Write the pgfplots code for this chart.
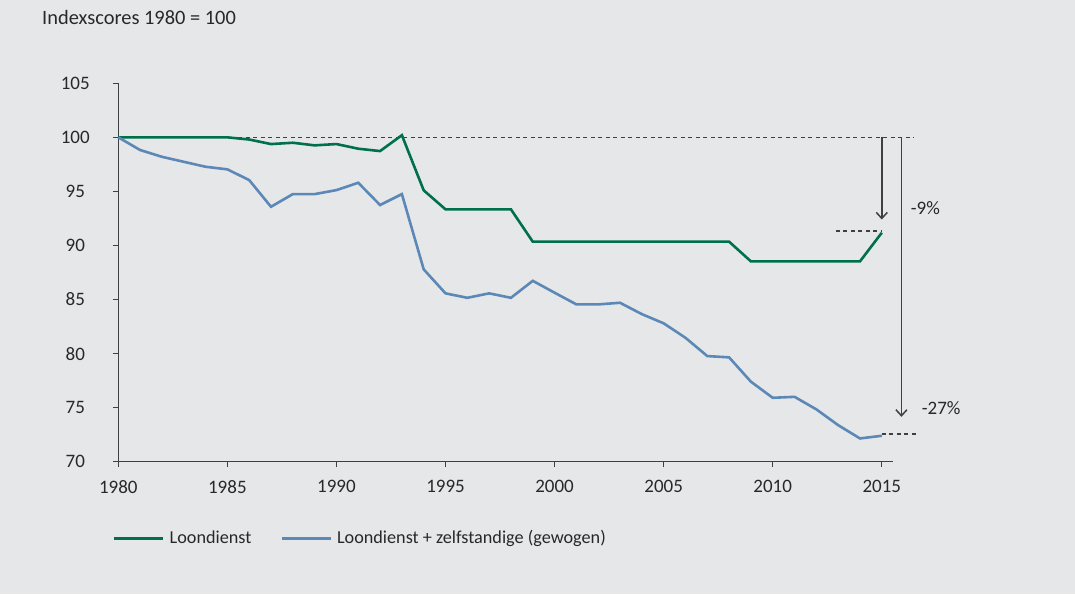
\documentclass[border=0pt]{standalone}
\usepackage{fontspec}
\setmainfont{Carlito}
\usepackage{pgfplots}
\pgfplotsset{compat=1.18}
\usetikzlibrary{arrows.meta}
\definecolor{bg}{RGB}{230,231,232}
\definecolor{cgreen}{RGB}{0,112,74}
\definecolor{cblue}{RGB}{92,136,184}
\definecolor{cgray}{RGB}{64,64,64}
\definecolor{ctext}{RGB}{40,40,40}
\begin{document}
\fontsize{19}{22}\selectfont
\begin{tikzpicture}[x=1pt,y=1pt]
\fill[bg] (0,0) rectangle (1075,594);
\node[anchor=base west, inner sep=0pt, text=ctext, font=\fontsize{20.4}{24}\selectfont] at (42,569) {Indexscores 1980 = 100};
\begin{axis}[
  at={(118.3pt,132.3pt)}, anchor=south west,
  scale only axis, width=774.4pt, height=378.4pt,
  xmin=1980, xmax=2015.5, ymin=70, ymax=105,
  axis lines*=left,
  xtick={1980,1985,...,2015}, ytick={70,75,...,105},
  tick align=outside, major tick length=5pt,
  tick style={cgray, line width=1.2pt},
  axis line style={cgray, line width=1.3pt},
  every tick label/.append style={font=\fontsize{19}{22}\selectfont, text=ctext},
  /pgf/number format/assume math mode=true,
  /pgf/number format/1000 sep={},
  yticklabel style={anchor=center, xshift=-38pt},
  xticklabel style={anchor=center, yshift=-20pt},
  clip=false,
  legend columns=2,
  legend style={at={(-0.007,-0.2025)}, anchor=west, draw=none, fill=none,
    inner sep=0pt, font=\fontsize{18.2}{22}\selectfont, text=ctext},
  legend image code/.code={\draw[#1] (0pt,0pt) -- (49pt,0pt);},
]
\draw[cgray, line width=1.4pt, dash pattern=on 4pt off 3.5pt] (axis cs:1980,100) -- (axis cs:2016.45,100);
\draw[cgray, line width=1.4pt, dash pattern=on 4pt off 3.5pt] (axis cs:2012.9,91.33) -- (axis cs:2015,91.33);
\draw[cgray, line width=1.4pt, dash pattern=on 4pt off 3.5pt] (axis cs:2015,72.55) -- (axis cs:2016.55,72.55);
\addplot[cgreen, line width=2.6pt] coordinates {
(1980,100) (1981,100) (1982,100) (1983,100) (1984,100) (1985,100)
(1986,99.8) (1987,99.38) (1988,99.5) (1989,99.26) (1990,99.38) (1991,98.95)
(1992,98.73) (1993,100.2) (1994,95.1) (1995,93.34) (1996,93.34) (1997,93.34)
(1998,93.34) (1999,90.35) (2000,90.35) (2001,90.35) (2002,90.35) (2003,90.35)
(2004,90.35) (2005,90.35) (2006,90.35) (2007,90.35) (2008,90.35) (2009,88.53)
(2010,88.53) (2011,88.53) (2012,88.53) (2013,88.53) (2014,88.53) (2015,91.18)
};
\addlegendentry{\hspace{3pt}Loondienst\rule{27pt}{0pt}}
\addplot[cblue, line width=2.6pt] coordinates {
(1980,100) (1981,98.83) (1982,98.2) (1983,97.74) (1984,97.28) (1985,97.04)
(1986,96.05) (1987,93.58) (1988,94.75) (1989,94.75) (1990,95.12) (1991,95.8)
(1992,93.74) (1993,94.75) (1994,87.79) (1995,85.57) (1996,85.16) (1997,85.57)
(1998,85.16) (1999,86.73) (2000,85.63) (2001,84.55) (2002,84.55) (2003,84.7)
(2004,83.65) (2005,82.8) (2006,81.46) (2007,79.77) (2008,79.65) (2009,77.4)
(2010,75.91) (2011,76.0) (2012,74.84) (2013,73.38) (2014,72.15) (2015,72.4)
};
\addlegendentry{\hspace{3pt}Loondienst + zelfstandige (gewogen)}
\draw[cgray, line width=1.5pt, -{Straight Barb[length=6pt,width=11pt]}] (axis cs:2015,100) -- (axis cs:2015,92.4);
\draw[cgray, line width=1.5pt, -{Straight Barb[length=6pt,width=11pt]}] (axis cs:2015.9,100) -- (axis cs:2015.9,74.15);
\end{axis}
\node[anchor=base west, inner sep=0pt, text=ctext] at (910.7,379) {-9\%};
\node[anchor=base west, inner sep=0pt, text=ctext] at (921.7,179) {-27\%};
\end{tikzpicture}
\end{document}
